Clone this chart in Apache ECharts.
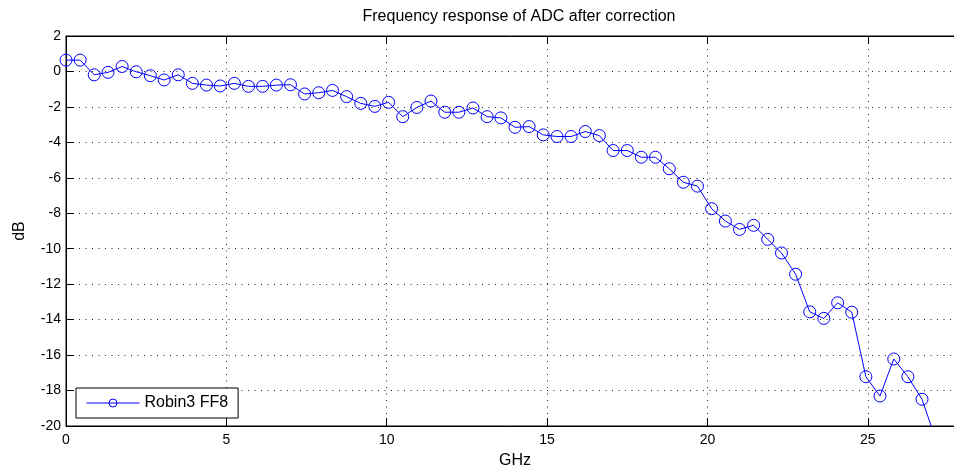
<!DOCTYPE html>
<html>
<head>
<meta charset="utf-8">
<script src="https://cdn.jsdelivr.net/npm/echarts@6/dist/echarts.min.js"></script>
<style>
  html, body { margin: 0; padding: 0; background: #fff; }
  #chart { width: 954px; height: 470px; }
</style>
</head>
<body>
<div id="chart"></div>
<script>
// frequency points (GHz)
const freqs = [0, 0.44, 0.88, 1.31, 1.75, 2.19, 2.63, 3.06, 3.5, 3.94, 4.38, 4.81, 5.25, 5.69, 6.13, 6.56,
    7, 7.44, 7.88, 8.31, 8.75, 9.19, 9.63, 10.06, 10.5, 10.94, 11.38, 11.81, 12.25, 12.69, 13.13, 13.56,
    14, 14.44, 14.88, 15.31, 15.75, 16.19, 16.63, 17.06, 17.5, 17.94, 18.38, 18.81, 19.25, 19.69, 20.13,
    20.56, 21, 21.44, 21.88, 22.31, 22.75, 23.19, 23.63, 24.06, 24.5, 24.94, 25.38, 25.81, 26.25, 26.69, 27.13];

// response (dB)
const gainDb = [0.64, 0.64, -0.19, -0.05, 0.28, -0.02, -0.24, -0.48, -0.19, -0.67, -0.77, -0.82, -0.67, -0.84, -0.84, -0.77,
    -0.75, -1.27, -1.2, -1.07, -1.42, -1.8, -1.97, -1.74, -2.55, -2.03, -1.67, -2.3, -2.3, -2.06, -2.55, -2.62,
    -3.15, -3.11, -3.58, -3.67, -3.67, -3.39, -3.62, -4.46, -4.46, -4.84, -4.84, -5.49, -6.25, -6.47, -7.74,
    -8.44, -8.91, -8.68, -9.47, -10.24, -11.44, -13.56, -13.93, -13.05, -13.58, -17.22, -18.31, -16.22, -17.22, -18.49, -20.8];

const seriesName = "Robin3 FF8";

let chart = echarts.init(document.getElementById("chart"));
const font = "Liberation Sans, Arial, sans-serif";

let option = {
    backgroundColor: "#fff",
    animation: false,
    title: {
        text: "Frequency response of ADC after correction",
        left: 514,
        top: 4,
        textAlign: "center",
        textStyle: { fontFamily: font, fontSize: 16, fontWeight: "normal", color: "#000" }
    },
    legend: {
        left: 76,
        top: 388,
        orient: "horizontal",
        backgroundColor: "#fff",
        borderColor: "#000",
        borderWidth: 1,
        borderRadius: 0,
        padding: [7, 10, 7, 10],
        itemWidth: 53,
        itemHeight: 10,
        lineStyle: { width: 1, color: "#0000ff" },
        itemStyle: { color: "rgba(0,0,0,0)", borderColor: "#0000ff", borderWidth: 1 },
        textStyle: { fontFamily: font, fontSize: 16, color: "#000" },
        data: [seriesName]
    },
    grid: {
        left: 66,
        top: 36,
        right: -10,
        bottom: 44,
        show: true,
        borderColor: "#000",
        borderWidth: 1,
        containLabel: false,
        outerBoundsMode: "none"
    },
    xAxis: [{
        type: "value",
        min: 0,
        max: 28,
        interval: 5,
        name: "GHz",
        nameLocation: "middle",
        nameGap: 27,
        nameTextStyle: { fontFamily: font, fontSize: 16, color: "#000" },
        axisLine: { show: true, onZero: false, lineStyle: { color: "#000", width: 1 } },
        axisTick: { show: true, inside: true, length: 8, lineStyle: { color: "#000" } },
        axisLabel: { fontFamily: font, fontSize: 14, color: "#000", margin: 7, showMaxLabel: false },
        splitLine: { show: true, lineStyle: { color: "#222", width: 1, type: [1, 5.5] } }
    }, {
        type: "value",
        position: "top",
        min: 0,
        max: 28,
        interval: 5,
        axisLine: { show: true, onZero: false, lineStyle: { color: "#000", width: 1 } },
        axisTick: { show: true, inside: true, length: 8, lineStyle: { color: "#000" } },
        axisLabel: { show: false },
        splitLine: { show: false }
    }],
    yAxis: {
        type: "value",
        min: -20,
        max: 2,
        interval: 2,
        name: "dB",
        nameLocation: "middle",
        nameGap: 38,
        nameTextStyle: { fontFamily: font, fontSize: 16, color: "#000" },
        axisLine: { show: true, onZero: false, lineStyle: { color: "#000", width: 1 } },
        axisTick: { show: true, inside: true, length: 8, lineStyle: { color: "#000" } },
        axisLabel: { fontFamily: font, fontSize: 14, color: "#000", margin: 5 },
        splitLine: { show: true, lineStyle: { color: "#222", width: 1, type: [1, 5.5] } }
    },
    series: [{
        name: seriesName,
        type: "line",
        data: freqs.map((f, i) => [f, gainDb[i]]),
        symbol: "circle",
        symbolSize: 12,
        clip: true,
        lineStyle: { color: "#0000ff", width: 1 },
        itemStyle: { color: "rgba(0,0,0,0)", borderColor: "#0000ff", borderWidth: 1 },
        emphasis: { disabled: true }
    }]
};

chart.setOption(option);
</script>
</body>
</html>
